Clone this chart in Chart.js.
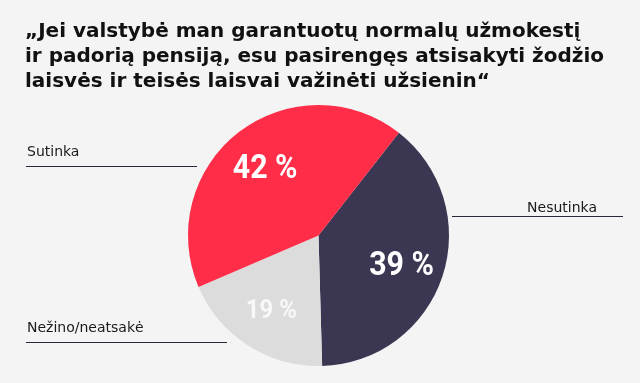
<!DOCTYPE html>
<html><head><meta charset="utf-8">
<script src="https://cdn.jsdelivr.net/npm/chart.js@4/dist/chart.umd.min.js"></script>
<style>html,body{margin:0;padding:0;background:#f4f4f5;overflow:hidden}canvas{display:block}</style>
</head><body>
<canvas id="c" width="640" height="383"></canvas>
<script>
const titleLines = ["„Jei valstybė man garantuotų normalų užmokestį", "ir padorią pensiją, esu pasirengęs atsisakyti žodžio", "laisvės ir teisės laisvai važinėti užsienin“"];
const categories = ["Nesutinka", "Nežino/neatsakė", "Sutinka"];
const values = [39, 19, 42];
const valueLabels = ["39 %", "19 %", "42 %"];
const colors = ["#3b3651", "#dcdcdc", "#ff2d48"];

const labelFont = 'Roboto, "DejaVu Sans", sans-serif';

const overlay = {
  id: 'overlay',
  beforeDraw(chart) {
    const ctx = chart.ctx;
    ctx.save();
    ctx.fillStyle = '#f4f4f5';
    ctx.fillRect(0, 0, chart.width, chart.height);
    // title
    ctx.fillStyle = '#111111';
    ctx.font = 'bold 20px "DejaVu Sans", sans-serif';
    ctx.textBaseline = 'alphabetic';
    ctx.textAlign = 'left';
    titleLines.forEach((t, i) => ctx.fillText(t, 25, 37 + i * 25));
    // category labels with underline
    ctx.font = '14px "DejaVu Sans", sans-serif';
    ctx.fillStyle = '#1a1a1a';
    ctx.strokeStyle = '#2a2838';
    ctx.lineWidth = 1.2;
    const cats = [
      {i: 2, x: 27, y: 156, align: 'left', lx1: 26, lx2: 197, ly: 166},
      {i: 0, x: 597, y: 212, align: 'right', lx1: 452, lx2: 623, ly: 216},
      {i: 1, x: 27, y: 332, align: 'left', lx1: 26, lx2: 227, ly: 342}
    ];
    cats.forEach(c => {
      ctx.textAlign = c.align;
      ctx.fillText(categories[c.i], c.x, c.y);
      ctx.beginPath();
      ctx.moveTo(c.lx1, c.ly + 0.5);
      ctx.lineTo(c.lx2, c.ly + 0.5);
      ctx.stroke();
    });
    ctx.restore();
  },
  afterDatasetsDraw(chart) {
    const ctx = chart.ctx;
    const meta = chart.getDatasetMeta(0);
    meta.data.forEach((arc, i) => {
      const p = arc.getProps(['x', 'y', 'startAngle', 'endAngle', 'outerRadius'], true);
      const mid = (p.startAngle + p.endAngle) / 2;
      const d = p.outerRadius * 0.67;
      const x = p.x + Math.cos(mid) * d;
      const y = p.y + Math.sin(mid) * d;
      const small = values[i] < 25;
      const size = small ? 26 : 33;
      ctx.save();
      ctx.translate(x, y + size * 0.355);
      ctx.scale(0.92, 1);
      ctx.textAlign = 'center';
      ctx.textBaseline = 'alphabetic';
      ctx.font = 'bold ' + size + 'px ' + labelFont;
      ctx.fillStyle = small ? 'rgba(255,255,255,0.8)' : '#ffffff';
      ctx.fillText(valueLabels[i], 0, 0);
      ctx.restore();
    });
  }
};

new Chart(document.getElementById('c'), {
  type: 'pie',
  data: {
    labels: categories,
    datasets: [{ data: values, backgroundColor: colors, borderWidth: 0, hoverOffset: 0 }]
  },
  options: {
    responsive: false,
    animation: false,
    rotation: 38,
    layout: { padding: { left: 188, right: 191, top: 105, bottom: 17 } },
    plugins: { legend: { display: false }, title: { display: false }, tooltip: { enabled: false } },
    events: []
  },
  plugins: [overlay]
});
</script>
</body></html>
